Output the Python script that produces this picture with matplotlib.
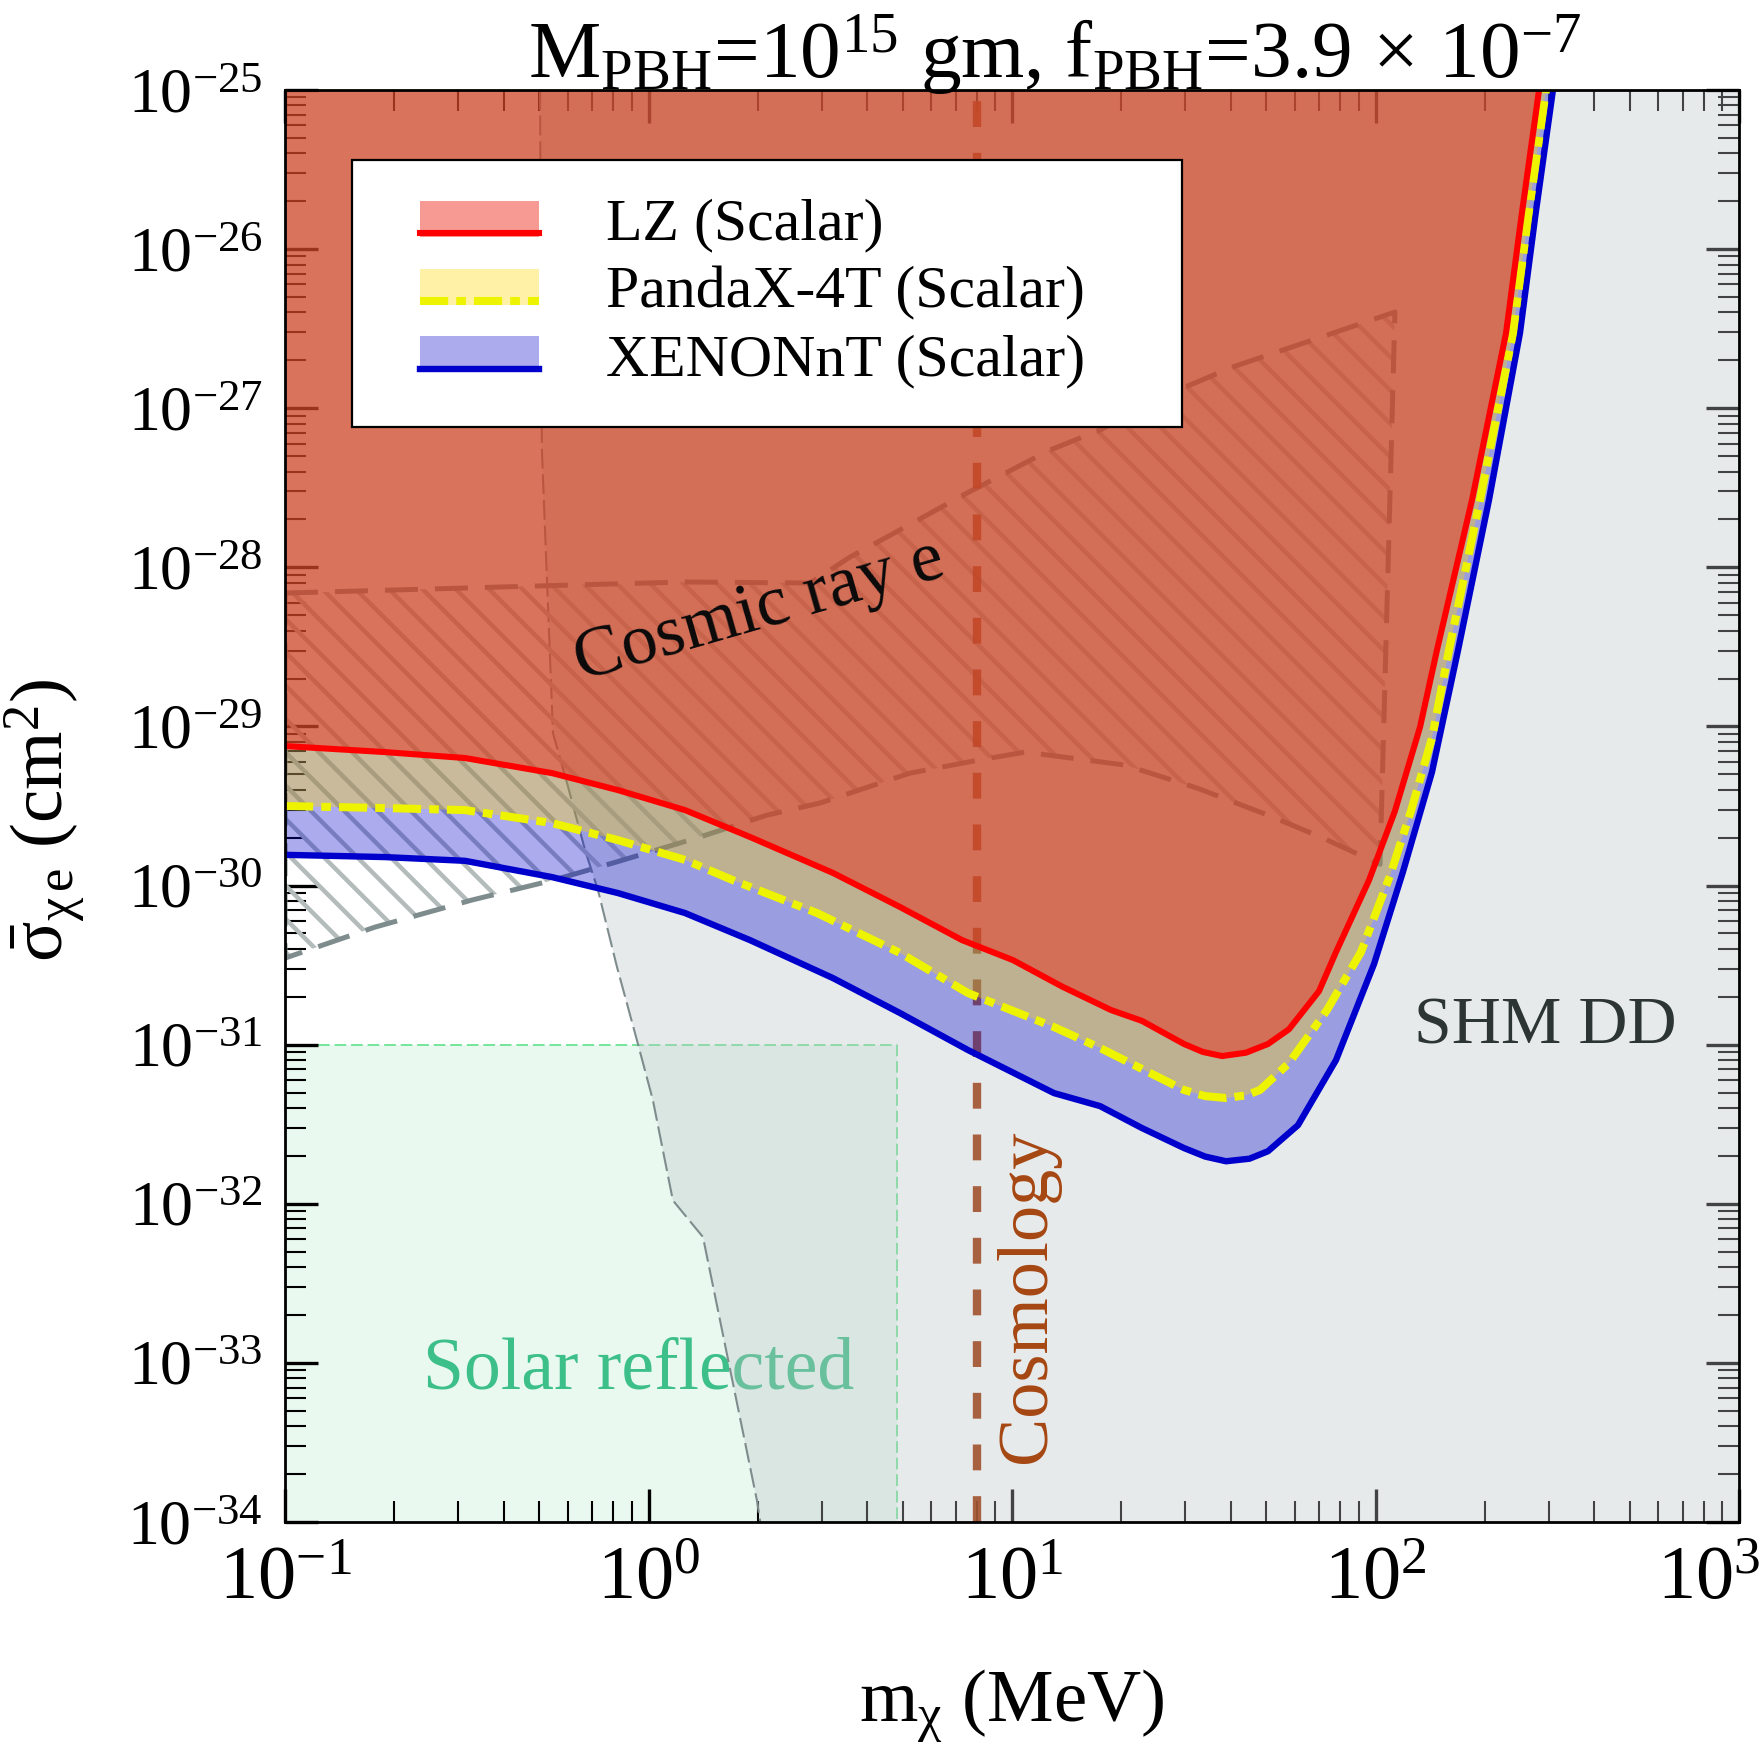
import numpy as np
import matplotlib
matplotlib.use('Agg')
import matplotlib.pyplot as plt
import matplotlib.transforms as mtransforms
from matplotlib.ticker import LogLocator, LogFormatterMathtext, NullFormatter, FixedLocator
from matplotlib.legend_handler import HandlerBase
from matplotlib.patches import Rectangle
from matplotlib.lines import Line2D

plt.rcParams['font.family'] = ['Liberation Serif', 'DejaVu Serif']
plt.rcParams['mathtext.fontset'] = 'custom'
plt.rcParams['mathtext.rm'] = 'Liberation Serif'
plt.rcParams['mathtext.it'] = 'Liberation Serif:italic'
plt.rcParams['mathtext.bf'] = 'Liberation Serif:bold'
plt.rcParams['hatch.linewidth'] = 3.2

# ---------------- data ----------------
x_ticks = [1e-1, 1e0, 1e1, 1e2, 1e3]
y_ticks = [1e-34, 1e-33, 1e-32, 1e-31, 1e-30, 1e-29, 1e-28, 1e-27, 1e-26, 1e-25]

lz_x = [0.1, 0.1884, 0.3129, 0.5427, 0.8242, 1.260, 1.902, 3.218, 4.920, 7.288, 10.06,
        13.73, 18.73, 22.79, 29.73, 33.5, 37.83, 44.0, 50.62, 57.81, 69.93, 77.87, 95.97,
        113.1, 132.6, 147.6, 184.3, 228.6, 252.0, 281.8]
lz_y = [7.53e-30, 6.90e-30, 6.33e-30, 5.09e-30, 3.98e-30, 2.98e-30, 2.02e-30, 1.20e-30,
        7.33e-31, 4.54e-31, 3.40e-31, 2.32e-31, 1.65e-31, 1.41e-31, 1.01e-31, 9.0e-32,
        8.48e-32, 8.9e-32, 1.01e-31, 1.25e-31, 2.17e-31, 3.82e-31, 1.08e-30, 2.94e-30,
        9.91e-30, 3.02e-29, 2.65e-28, 2.97e-27, 1.6e-26, 1e-25]

pandax_x = [0.1, 0.1884, 0.3129, 0.5427, 0.8242, 1.260, 1.708, 2.908, 4.920, 7.568, 13.05,
            17.47, 22.79, 29.73, 34.0, 38.80, 44.0, 48.12, 57.81, 73.55, 91.22, 109.6, 125.2,
            143.0, 159.3, 193.9, 238.9, 263.0, 294.4]
pandax_y = [3.16e-30, 3.07e-30, 2.98e-30, 2.47e-30, 1.93e-30, 1.45e-30, 1.08e-30, 6.72e-31,
            3.77e-31, 2.11e-31, 1.29e-31, 9.53e-32, 7.03e-32, 5.19e-32, 4.75e-32, 4.62e-32,
            4.8e-32, 5.19e-32, 7.66e-32, 1.65e-31, 3.82e-31, 1.15e-30, 2.94e-30, 8.45e-30,
            3.02e-29, 2.65e-28, 2.97e-27, 1.6e-26, 1e-25]

xenon_x = [0.1, 0.1884, 0.3129, 0.5427, 0.8242, 1.260, 1.902, 3.218, 4.920, 7.568, 13.05,
           17.47, 22.79, 29.73, 34.0, 38.80, 45.0, 50.62, 61.21, 77.87, 99.06, 119.0, 143.0,
           168.7, 205.2, 249.7, 275.0, 307.7]
xenon_y = [1.56e-30, 1.51e-30, 1.43e-30, 1.13e-30, 8.97e-31, 6.72e-31, 4.54e-31, 2.62e-31,
           1.58e-31, 9.25e-32, 4.96e-32, 4.11e-32, 2.99e-32, 2.24e-32, 1.98e-32, 1.85e-32,
           1.92e-32, 2.14e-32, 3.12e-32, 8.00e-32, 3.21e-31, 1.22e-30, 5.16e-30, 3.02e-29,
           2.65e-28, 2.97e-27, 1.6e-26, 1e-25]

# cosmic-ray e bound (closed polygon: top edge, right edge, bottom edge)
cr_x = [0.1, 0.3904, 1.260, 2.782, 3.584, 4.920, 7.519, 12.72, 17.47, 29.54, 40.55, 73.55,
        113.1, 102.9, 71.71, 50.62, 32.28, 20.46, 10.86, 8.114, 5.241, 2.963, 2.118, 1.386,
        0.819, 0.5462, 0.3268, 0.1768, 0.1]
cr_y = [6.89e-29, 7.52e-29, 8.09e-29, 7.97e-29, 1.16e-28, 1.72e-28, 2.93e-28, 5.46e-28,
        7.29e-28, 1.34e-27, 1.82e-27, 2.88e-27, 4.02e-27, 1.36e-30, 1.99e-30, 2.77e-30,
        4.10e-30, 5.72e-30, 6.90e-30, 6.15e-30, 5.09e-30, 3.30e-30, 2.77e-30, 2.02e-30,
        1.41e-30, 1.08e-30, 8.11e-31, 5.48e-31, 3.50e-31]

# SHM direct-detection lower boundary
shm_x = [0.503, 0.509, 0.546, 0.601, 0.669, 0.726, 0.819, 0.929, 1.028, 1.167, 1.412, 1.987, 2.03]
shm_y = [1e-25, 5.46e-28, 9.08e-30, 4.16e-30, 1.67e-30, 9.37e-31, 3.08e-31, 1.07e-31,
         4.49e-32, 1.05e-32, 6.18e-33, 1.37e-34, 1e-34]

# solar reflected box
solar_x = [0.1, 4.83]
solar_y = [1e-34, 1e-31]

cosmology_m = 8.0

labels = ['LZ (Scalar)', 'PandaX-4T (Scalar)', 'XENONnT (Scalar)']

# ---------------- style ----------------
RED_F, RED_A = '#f1190c', 0.44
YEL_F, YEL_A = '#ffd700', 0.35
BLU_F, BLU_A = '#0000cd', 0.33
YEL_LS = (0, (3.5, 1.0, 1.2, 1.0))

fig = plt.figure(figsize=(17.6, 17.45), dpi=100)
ax = fig.add_axes([285/1760, 1 - 1522/1745, 1454/1760, 1432/1745])
ax.set_xscale('log')
ax.set_yscale('log')
ax.set_xlim(0.1, 1000)
ax.set_ylim(1e-34, 1e-25)

# solar reflected
ax.fill_between(solar_x, solar_y[0], solar_y[1], facecolor='#2ecc71', alpha=0.1, lw=0, zorder=1)
ax.plot([solar_x[0], solar_x[1], solar_x[1]], [solar_y[1], solar_y[1], solar_y[0]],
        color='#74e69a', lw=1.4, ls=(0, (6, 2.5)), zorder=1.1)
ax.text(0.94, 6.95e-34, 'Solar reflected', ha='center', va='baseline', fontsize=53,
        color='#3cbf88', zorder=1.2)

# SHM DD
ax.fill_betweenx(shm_y, shm_x, 1000, facecolor='#bdc3c7', alpha=0.35, lw=0, zorder=2)
ax.plot(shm_x, shm_y, color='#7f8c8d', lw=1.5, ls=(0, (9.5, 2.8)), zorder=2.1)

# cosmic ray e
ax.fill(cr_x, cr_y, facecolor='none', edgecolor='#b3bbbb', hatch='\\', linewidth=0, zorder=3)
ax.plot(cr_x + [cr_x[0]], cr_y + [cr_y[0]], color='#7f8c8d', lw=3.6, ls=(0, (6.6, 3.4)), zorder=3.1)

# cosmology
ax.axvline(cosmology_m, color='#a0522d', alpha=0.9, lw=6, ls=(0, (3.1, 3.1)), zorder=3.2)

# limit fills
ax.fill_between(xenon_x, xenon_y, 1e-25, facecolor=BLU_F, alpha=BLU_A, lw=0, zorder=4)
ax.fill_between(pandax_x, pandax_y, 1e-25, facecolor=YEL_F, alpha=YEL_A, lw=0, zorder=4.1)
ax.fill_between(lz_x, lz_y, 1e-25, facecolor=RED_F, alpha=RED_A, lw=0, zorder=4.2)

# limit curves
ax.plot(xenon_x, xenon_y, color='#0000cc', lw=4.6, zorder=5, solid_joinstyle='round')
ax.plot(pandax_x, pandax_y, color='#eef300', lw=5.8, ls=YEL_LS, zorder=5.1)
ax.plot(lz_x, lz_y, color='#ff0000', lw=4.4, zorder=5.2, solid_joinstyle='round')

# annotations
ax.text(2.08, 4.16e-29, 'Cosmic ray e', rotation=16, rotation_mode='anchor', ha='center',
        va='baseline', fontsize=52, color='#0a0a0a', zorder=6)
ax.text(294, 10**-30.889, 'SHM DD', ha='center', va='center', fontsize=49, color='#2d3434', zorder=6)
ax.text(12.3, 10**-32.58, 'Cosmology', rotation=90, rotation_mode='anchor', ha='center',
        va='baseline', fontsize=52, color='#a64712', zorder=6)

# legend
class FillLine:
    def __init__(self, fc, fa, lc, ls, lw):
        self.fc, self.fa, self.lc, self.ls, self.lw = fc, fa, lc, ls, lw

class FillLineHandler(HandlerBase):
    def create_artists(self, legend, orig, xd, yd, w, h, fs, trans):
        off = 0.49 * fs
        r = Rectangle((-xd + off, -yd), w - off, h, facecolor=orig.fc, alpha=orig.fa,
                      edgecolor='none', transform=trans)
        l = Line2D([-xd + off, -xd + w], [-yd + 0.1 * h, -yd + 0.1 * h], color=orig.lc,
                   ls=orig.ls, lw=orig.lw, transform=trans)
        return [r, l]

handles = [FillLine(RED_F, RED_A, '#ff0000', '-', 4.4),
           FillLine(YEL_F, YEL_A, '#eef300', YEL_LS, 5.8),
           FillLine(BLU_F, BLU_A, '#0000cc', '-', 4.6)]
leg_x0 = (352 - 285) / 1454
leg_top = (1522 - 160) / 1432
leg_w = (1182 - 352) / 1454
leg = ax.legend(handles, labels, handler_map={FillLine: FillLineHandler()},
                loc='upper left', bbox_to_anchor=(leg_x0, leg_top - 0.1, leg_w, 0.1),
                mode='expand', borderaxespad=0, fontsize=43, handlelength=2.48,
                handleheight=0.55, handletextpad=1.12, borderpad=0.65, labelspacing=0.23,
                fancybox=False, framealpha=1, edgecolor='black')
leg.get_frame().set_linewidth(1.6)
leg.set_zorder(10)

# axes styling
for s in ax.spines.values():
    s.set_linewidth(2.0)
    s.set_zorder(11)
ax.xaxis.set_major_locator(FixedLocator(x_ticks))
ax.xaxis.set_minor_locator(LogLocator(base=10, subs=np.arange(2, 10), numticks=20))
ax.yaxis.set_major_locator(FixedLocator(y_ticks))
ax.yaxis.set_minor_locator(LogLocator(base=10, subs=np.arange(2, 10), numticks=20))
ax.xaxis.set_major_formatter(LogFormatterMathtext())
ax.yaxis.set_major_formatter(LogFormatterMathtext())
ax.xaxis.set_minor_formatter(NullFormatter())
ax.yaxis.set_minor_formatter(NullFormatter())
ax.tick_params(which='both', direction='in', top=True, right=True, zorder=11)
ax.tick_params(which='major', length=24, width=2.4, pad=17)
ax.tick_params(which='minor', length=15, width=1.5)
ax.tick_params(axis='x', labelsize=55)
ax.tick_params(axis='y', labelsize=46, pad=16)

ax.set_xlabel(r'm$_{\mathrm{\chi}}$ (MeV)', fontsize=54)
ax.xaxis.set_label_coords(0.5, -0.101)
ax.set_ylabel(r'$\bar{\mathrm{\sigma}}_{\mathrm{\chi}\,\mathrm{e}}$ (cm$^2$)', fontsize=54)
ax.yaxis.set_label_coords(-0.137, 0.49)

fig.text(1055 / 1760, 1 - 55 / 1745,
         r'M$_{\mathrm{PBH}}$=10$^{15}$ gm, f$_{\mathrm{PBH}}$=3.9 $\times$ 10$^{-7}$',
         ha='center', va='center', fontsize=58.5)

# keep the rightmost x tick label inside the figure, as in the reference
fig.canvas.draw()
shift = mtransforms.ScaledTranslation(-30 / 100, 0, fig.dpi_scale_trans)
for tick in ax.xaxis.get_major_ticks():
    if np.isclose(tick.get_loc(), 1000):
        tick.label1.set_transform(tick.label1.get_transform() + shift)

fig.savefig('out.png', dpi=100)
